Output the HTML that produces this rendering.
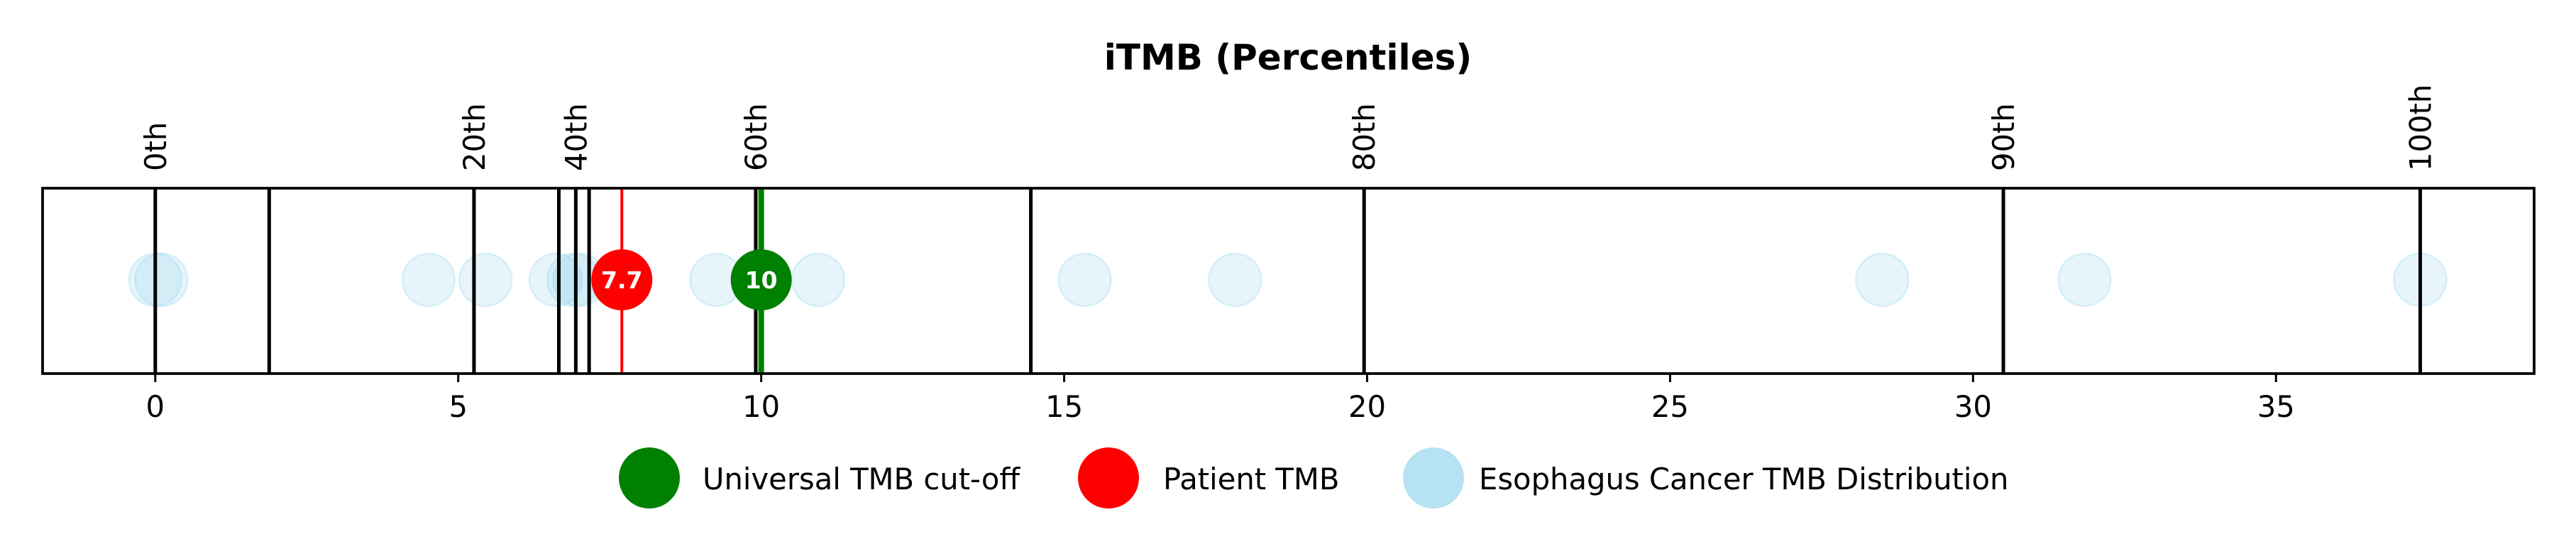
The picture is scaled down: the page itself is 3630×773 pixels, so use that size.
<!DOCTYPE html>
<html><head><meta charset="utf-8"><style>
html,body{margin:0;padding:0;background:#fff;}
svg{display:block;font-family:"DejaVu Sans","Liberation Sans",sans-serif;}
</style></head><body>
<svg id="chart" width="3630" height="773" viewBox="0 0 3630 773" xmlns="http://www.w3.org/2000/svg">
<text x="1815" y="98" text-anchor="middle" font-size="50" font-weight="bold">iTMB (Percentiles)</text>
<g id="plot"></g>
<g id="legend">
  <g>
    <circle cx="915" cy="673" r="43" fill="#008000"/>
    <text x="990" y="689" font-size="41.7">Universal TMB cut-off</text>
  </g>
  <g>
    <circle cx="1562" cy="673" r="43" fill="#ff0000"/>
    <text x="1639" y="689" font-size="41.7">Patient TMB</text>
  </g>
  <g>
    <circle cx="2020" cy="673" r="43" fill="#87ceeb" fill-opacity="0.6"/>
    <text x="2084" y="689" font-size="41.7">Esophagus Cancer TMB Distribution</text>
  </g>
</g>
</svg>
<script>
const percentileLabels = ["0th","20th","40th","60th","80th","90th","100th"];
const percentileValues = [0, 5.26, 6.94, 9.91, 19.95, 30.5, 37.38];
const extraLines = [1.88, 6.66, 7.16, 14.45];
const distribution = [0, 0.1, 4.51, 5.45, 6.61, 6.9, 7.0, 9.26, 10.94, 15.34, 17.82, 28.5, 31.84, 37.38];
const patientTMB = [7.7];
const cutoffTMB = [10];
const xTicks = [0, 5, 10, 15, 20, 25, 30, 35];
const xDomain = [-1.86, 39.26];

const NS = "http://www.w3.org/2000/svg";
const L = 60, R = 3571, T = 265, B = 526, CY = 394;
function x(v){ return L + (v - xDomain[0]) / (xDomain[1] - xDomain[0]) * (R - L); }
const plot = document.getElementById('plot');
function mk(tag, attrs, parent){
  const e = document.createElementNS(NS, tag);
  for (const k in attrs) e.setAttribute(k, attrs[k]);
  (parent || plot).appendChild(e);
  return e;
}
const frame = mk('rect', {x:L, y:T, width:R-L, height:B-T, fill:'#fff', stroke:'#000', 'stroke-width':3.5});


distribution.forEach(v => {
  const c = mk('circle', {cx:x(v), cy:CY, r:37, fill:'#87ceeb', 'fill-opacity':0.2, stroke:'#87ceeb', 'stroke-opacity':0.25, 'stroke-width':3});
  
  
});
extraLines.forEach(v => {
  const l = mk('line', {x1:x(v), x2:x(v), y1:T, y2:B, stroke:'#000', 'stroke-width':5});
  
  
});
percentileValues.forEach((v, i) => {
  const l = mk('line', {x1:x(v), x2:x(v), y1:T, y2:B, stroke:'#000', 'stroke-width':5});
  
  
  const t = mk('text', {x:0, y:0, 'font-size':41.7, transform:`translate(${x(v)+15},241) rotate(-90)`});
  t.textContent = percentileLabels[i];
  
  
});
cutoffTMB.forEach(v => {
  const l = mk('line', {x1:x(v), x2:x(v), y1:T, y2:B, stroke:'#008000', 'stroke-width':8});
  
  
  const c = mk('circle', {cx:x(v), cy:CY, r:43, fill:'#008000'});
  
  
  const t = mk('text', {x:x(v), y:CY+12, 'text-anchor':'middle', 'font-size':33, 'font-weight':'bold', fill:'#fff'});
  t.textContent = String(v);
  
  
});
patientTMB.forEach(v => {
  const l = mk('line', {x1:x(v), x2:x(v), y1:T, y2:B, stroke:'#ff0000', 'stroke-width':4});
  
  
  const c = mk('circle', {cx:x(v), cy:CY, r:43, fill:'#ff0000'});
  
  
  const t = mk('text', {x:x(v), y:CY+12, 'text-anchor':'middle', 'font-size':33, 'font-weight':'bold', fill:'#fff'});
  t.textContent = String(v);
  
  
});
const frame2 = mk('rect', {x:L, y:T, width:R-L, height:B-T, fill:'none', stroke:'#000', 'stroke-width':3.5});


xTicks.forEach(v => {
  const l = mk('line', {x1:x(v), x2:x(v), y1:B, y2:B+12, stroke:'#000', 'stroke-width':3});
  
  
  const t = mk('text', {x:x(v), y:587, 'text-anchor':'middle', 'font-size':41.7});
  t.textContent = String(v);
  
  
});
</script>
</body></html>
